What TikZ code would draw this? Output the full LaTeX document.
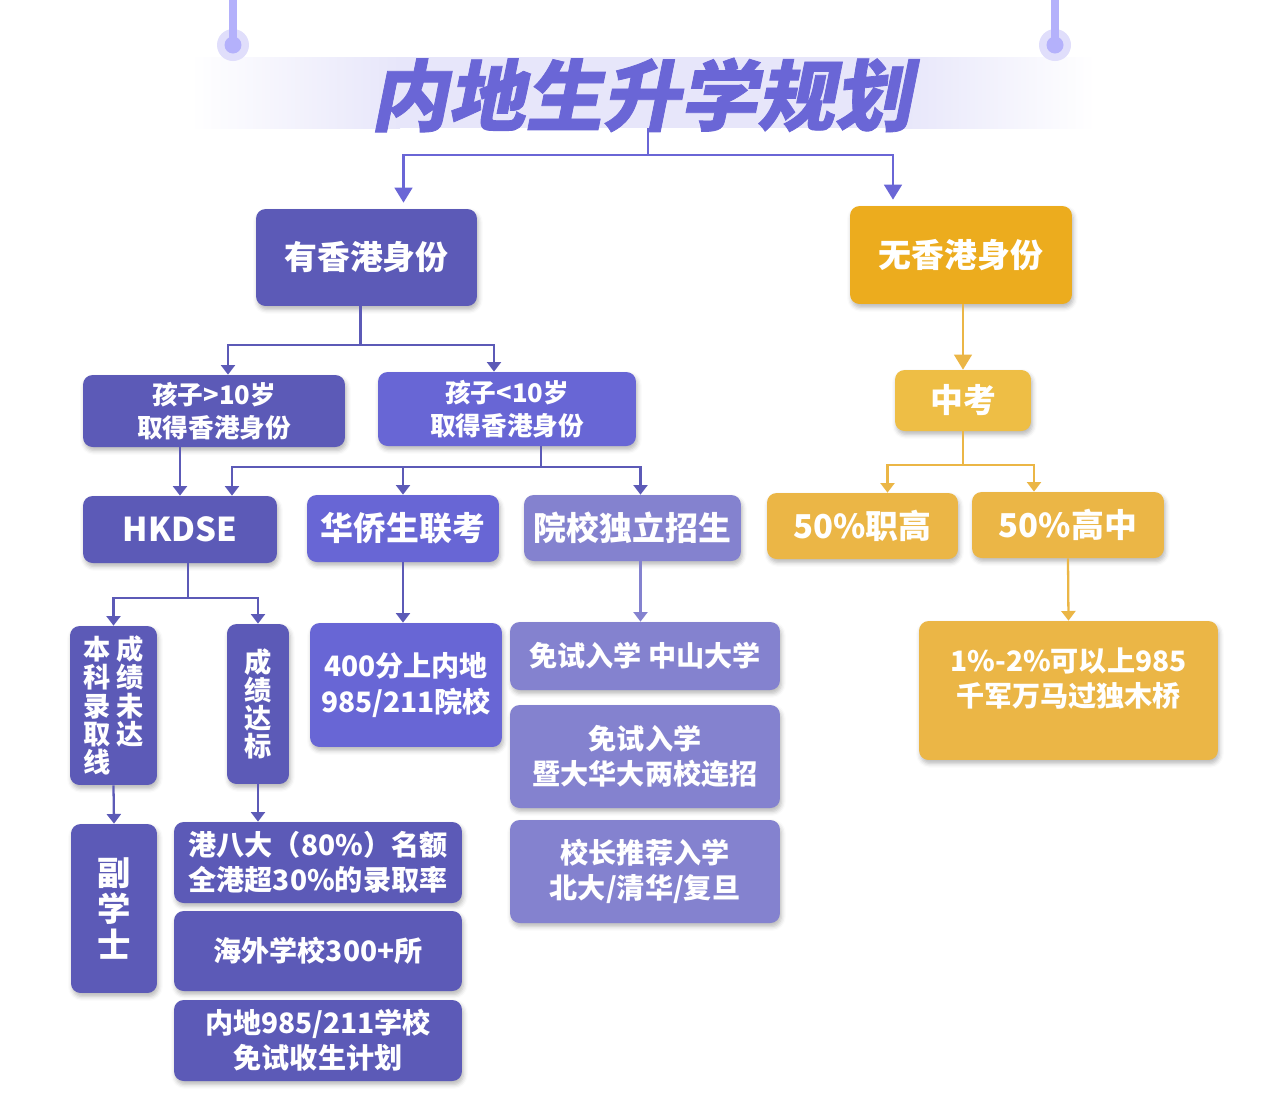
\documentclass[tikz,border=0pt]{standalone}
\usepackage{fontspec}
\setmainfont{Noto Sans CJK SC}
\newfontfamily\titlefont{Noto Sans CJK SC}[FakeSlant=0.2, FakeBold=1]
\usepackage{xcolor}
\usepackage{tikz}
\usetikzlibrary{arrows.meta, calc, shadows.blur}
\definecolor{purdark}{HTML}{5C5AB7}
\definecolor{purmid}{HTML}{6866D5}
\definecolor{purlight}{HTML}{8482CF}
\definecolor{titlepur}{HTML}{6A66D6}
\definecolor{golddark}{HTML}{ECAC1E}
\definecolor{goldmid}{HTML}{EEBE45}
\definecolor{gold}{HTML}{EBB646}
\definecolor{bandlav}{HTML}{E7E6FA}
\definecolor{decorpur}{HTML}{B4B1FB}
\definecolor{halopur}{HTML}{E0DEFB}

\begin{document}
\begin{tikzpicture}[x=0.02cm, y=-0.02cm,
  box/.style={rounded corners=5.5pt, text=white, align=center, inner sep=0pt,
    blur shadow={shadow xshift=0.8pt, shadow yshift=-2pt, shadow blur radius=2.5pt, shadow opacity=28}},
  bigtxt/.style={font=\bfseries\fontsize{18.7}{22}\selectfont},
  midtxt/.style={font=\bfseries\fontsize{14.6}{18.7}\selectfont},
  smalltxt/.style={font=\bfseries\fontsize{16}{20}\selectfont},
  vtxt/.style={font=\bfseries\fontsize{15.5}{16}\selectfont},
  pline/.style={draw=purdark, line width=1.3pt},
  tline/.style={draw=titlepur, line width=1.5pt},
  gline/.style={draw=gold, line width=1.3pt},
  bigarr/.style={-{Triangle[width=10pt, length=8.5pt]}},
  smallarr/.style={-{Triangle[width=8pt, length=5.5pt]}}]

  \useasboundingbox (0,0) rectangle (1286,1120);

  % Header band and hanging marks
  \shade[left color=white, right color=bandlav] (190,57) rectangle (400,128);
  \fill[bandlav] (399,57) rectangle (901,128);
  \shade[left color=bandlav, right color=white] (900,57) rectangle (1095,128);
  \foreach \x in {233, 1055} {
    \fill[halopur] (\x,45) circle (0.32cm);
    \draw[decorpur, line width=4pt] (\x,0) -- (\x,45);
    \fill[decorpur] (\x,45) circle (0.17cm);
  }
  \node[text=titlepur, font=\titlefont\bfseries\fontsize{44}{46}\selectfont] (title) at (641,95) {内地生升学规划};
  \coordinate (tstem) at (648,128);

  % With / without HK identity
  \node[box, fill=purdark, bigtxt, minimum width=4.42cm, minimum height=1.94cm] (yes) at (366.5,257.5) {有香港身份};
  \node[box, fill=golddark, bigtxt, minimum width=4.44cm, minimum height=1.96cm] (no) at (961,255) {无香港身份};
  \draw[tline, bigarr] (tstem) -- ++(0,27) -| ($(yes.north)+(37,-6)$);
  \draw[tline, bigarr] (tstem) -- ++(0,27) -| ($(no.north)+(-68,-6)$);

  % Age split
  \node[box, fill=purdark, midtxt, minimum width=5.24cm, minimum height=1.44cm] (gt) at (214,411) {孩子>10岁\\取得香港身份};
  \node[box, fill=purmid, midtxt, minimum width=5.16cm, minimum height=1.48cm] (lt) at (507,409) {孩子<10岁\\取得香港身份};
  \draw[pline, smallarr] ($(yes.south)+(-6,0)$) -- ++(0,39) -| ($(gt.north)+(14,0)$);
  \draw[pline, smallarr] ($(yes.south)+(-6,0)$) -- ++(0,39) -| ($(lt.north)+(-13,0)$);

  % Exam routes
  \node[box, fill=purdark, bigtxt, minimum width=3.88cm, minimum height=1.34cm] (dse) at (180,529.5) {HKDSE};
  \node[box, fill=purmid, bigtxt, minimum width=3.84cm, minimum height=1.34cm] (lk) at (403,528.5) {华侨生联考};
  \node[box, fill=purlight, bigtxt, minimum width=4.34cm, minimum height=1.32cm] (dl) at (632.5,528) {院校独立招生};
  \draw[pline, smallarr] (dse.north |- gt.south) -- (dse.north);
  \draw[pline, smallarr] ($(lt.south)+(34,0)$) -- ++(0,21) -| ($(dse.north)+(52,0)$);
  \draw[pline, smallarr] ($(lt.south)+(34,0)$) -- ++(0,21) -| (lk.north);
  \draw[pline, smallarr] ($(lt.south)+(34,0)$) -- ++(0,21) -| ($(dl.north)+(8,0)$);

  % HKDSE results
  \node[box, fill=purdark, vtxt, minimum width=1.74cm, minimum height=3.18cm] (wd) at (113.5,705.5)
    {\parbox[t]{1em}{\centering 本\\科\\录\\取\\线}\hspace{3pt}\parbox[t]{1em}{\centering 成\\绩\\未\\达}};
  \node[box, fill=purdark, vtxt, minimum width=1.24cm, minimum height=3.2cm] (db) at (258,704) {成\\绩\\达\\标};
  \draw[pline, smallarr] ($(dse.south)+(8,0)$) -- ++(0,35) -| (wd.north);
  \draw[pline, smallarr] ($(dse.south)+(8,0)$) -- ++(0,35) -| (db.north);

  \node[box, fill=purdark, font=\bfseries\fontsize{19}{20.5}\selectfont, minimum width=1.72cm, minimum height=3.38cm] (fxs) at (114,908.5) {副\\学\\士};
  \node[box, fill=purdark, smalltxt, minimum width=5.76cm, minimum height=1.62cm] (g8) at (318,862.5) {港八大（80\%）名额\\全港超30\%的录取率};
  \node[box, fill=purdark, smalltxt, minimum width=5.76cm, minimum height=1.6cm] (hw) at (318,951) {海外学校300+所};
  \node[box, fill=purdark, smalltxt, minimum width=5.76cm, minimum height=1.62cm] (nd) at (318,1040.5) {内地985/211学校\\免试收生计划};
  \draw[pline, smallarr] (wd.south) -- (fxs.north);
  \draw[pline, smallarr] (db.south) -- (db.south |- g8.north);

  % Joint exam and independent admission
  \node[box, fill=purmid, font=\bfseries\fontsize{16}{20.4}\selectfont, minimum width=3.84cm, minimum height=2.48cm] (f400) at (406,685) {400分上内地\\985/211院校};
  \node[box, fill=purlight, smalltxt, minimum width=5.4cm, minimum height=1.36cm] (ms1) at (645,656) {免试入学 中山大学};
  \node[box, fill=purlight, smalltxt, minimum width=5.4cm, minimum height=2.06cm] (ms2) at (645,756.5) {免试入学\\暨大华大两校连招};
  \node[box, fill=purlight, smalltxt, minimum width=5.4cm, minimum height=2.06cm] (xz) at (645,871.5) {校长推荐入学\\北大/清华/复旦};
  \draw[pline, smallarr] (lk.south) -- (lk.south |- f400.north);
  \coordinate (dlfoot) at ($(dl.south)+(8,0)$);
  \draw[draw=purlight, line width=1.3pt, smallarr] (dlfoot) -- (dlfoot |- ms1.north);

  % Without HK identity
  \node[box, fill=goldmid, bigtxt, minimum width=2.72cm, minimum height=1.22cm] (zk) at (963,400.5) {中考};
  \node[box, fill=gold, bigtxt, minimum width=3.82cm, minimum height=1.32cm] (zg) at (862.5,526) {50\%职高};
  \node[box, fill=gold, bigtxt, minimum width=3.84cm, minimum height=1.32cm] (gz) at (1068,525) {50\%高中};
  \node[box, fill=gold, smalltxt, minimum width=5.98cm, minimum height=2.78cm, text depth=15pt] (qj) at (1068.5,690.5) {1\%-2\%可以上985\\千军万马过独木桥};
  \draw[gline, bigarr] (zk.north |- no.south) -- (zk.north);
  \draw[gline, smallarr] (zk.south) -- ++(0,34) -| ($(zg.north)+(25,0)$);
  \draw[gline, smallarr] (zk.south) -- ++(0,34) -| ($(gz.north)+(-34,0)$);
  \draw[gline, smallarr] (gz.south) -- (qj.north);

\end{tikzpicture}
\end{document}
